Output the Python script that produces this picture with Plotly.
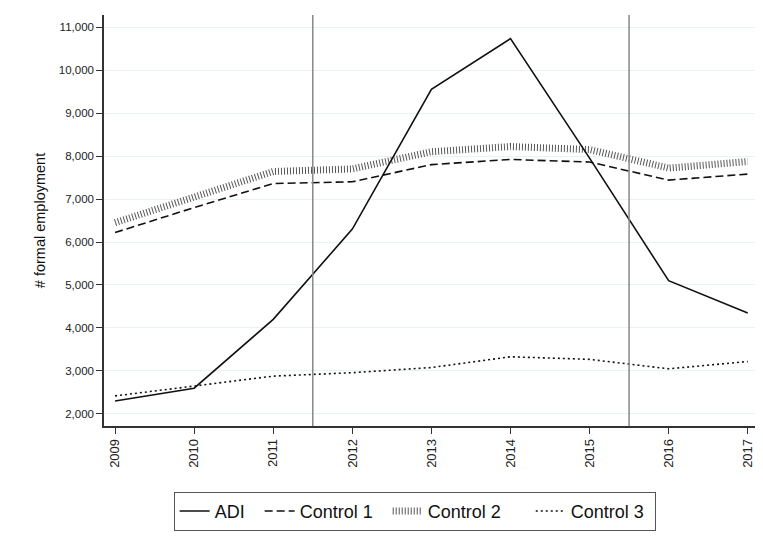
import plotly.graph_objects as go

years = [2009, 2010, 2011, 2012, 2013, 2014, 2015, 2016, 2017]
adi = [2300, 2600, 4200, 6300, 9550, 10730, 7950, 5100, 4350]
control1 = [6220, 6800, 7360, 7400, 7800, 7920, 7860, 7440, 7580]
control2 = [6450, 7030, 7640, 7700, 8100, 8220, 8150, 7720, 7870]
control3 = [2420, 2650, 2880, 2960, 3080, 3330, 3270, 3050, 3220]
vlines = [2011.5, 2015.5]
y_ticks = list(range(2000, 12000, 1000))

NB = "\u00a0"
fig = go.Figure()
fig.add_trace(go.Scatter(x=years, y=control2, name="Control 2" + NB * 5, mode="lines",
                         line=dict(color="#555555", width=7, dash="1px,2px")))
fig.add_trace(go.Scatter(x=years, y=control1, name="Control 1" + NB * 2, mode="lines",
                         line=dict(color="#111111", width=1.6, dash="8px,4px")))
fig.add_trace(go.Scatter(x=years, y=control3, name="Control 3" + NB * 1, mode="lines",
                         line=dict(color="#111111", width=1.6, dash="2px,3px")))
fig.add_trace(go.Scatter(x=years, y=adi, name="ADI" + NB * 2, mode="lines",
                         line=dict(color="#111111", width=1.6)))

for v in vlines:
    fig.add_shape(type="line", x0=v, x1=v, y0=0, y1=1, xref="x", yref="paper",
                  line=dict(color="#888888", width=1.5), layer="above")

fig.update_layout(
    width=763, height=551,
    margin=dict(l=96, r=13, t=7, b=133, autoexpand=False),
    paper_bgcolor="white", plot_bgcolor="white",
    font=dict(family="Liberation Sans, Arial, sans-serif", color="#222222"),
    showlegend=True,
    legend=dict(orientation="h", x=0.475, xanchor="center", y=-0.16, yanchor="top",
                bordercolor="#555555", borderwidth=1, font=dict(size=18, color="#111111"),
                traceorder="normal", itemwidth=30),
    xaxis=dict(range=[2008.86, 2017.13], tickmode="array", tickvals=years,
               ticktext=[str(y) for y in years], tickangle=-90,
               ticks="outside", ticklen=6, tickcolor="#333333", tickwidth=1.2,
               showline=True, linecolor="#333333", linewidth=1.5,
               showgrid=False, zeroline=False, tickfont=dict(size=13, color="#222222")),
    yaxis=dict(range=[1720, 11280], tickmode="array", tickvals=y_ticks,
               tickformat=",", ticks="outside", ticklen=6, tickcolor="#333333", tickwidth=1.2,
               showline=True, linecolor="#333333", linewidth=1.5,
               showgrid=True, gridcolor="#eaf2f3", gridwidth=1.2, zeroline=False,
               tickfont=dict(size=11.5, color="#222222"),
               title=dict(text="# formal employment", font=dict(size=14.5, color="#111111"), standoff=10)),
)

order = ["ADI", "Control 1", "Control 2", "Control 3"]
for t in fig.data:
    t.legendrank = order.index(t.name.rstrip(NB)) + 1

fig.write_html("out.html")
